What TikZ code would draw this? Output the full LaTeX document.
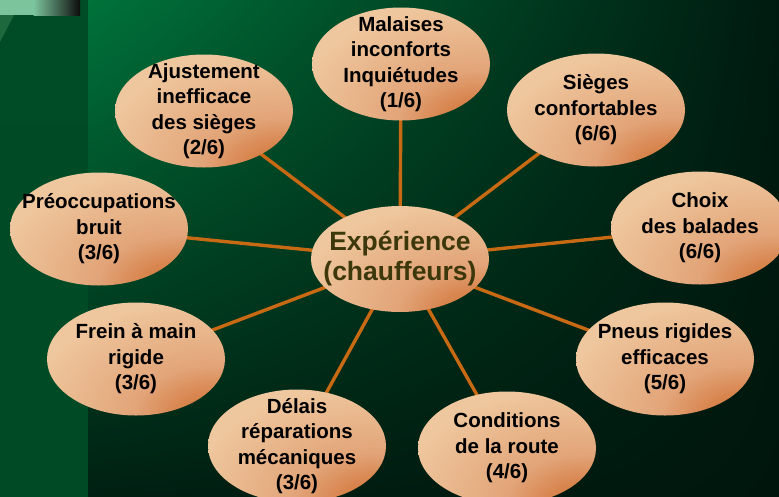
\documentclass[tikz,border=0pt]{standalone}
\usepackage{fontspec}
\setmainfont{Liberation Sans}
\usetikzlibrary{shapes.geometric,shadings}
\definecolor{speach}{RGB}{239,199,158}
\definecolor{smid}{RGB}{226,164,120}
\definecolor{sorange}{RGB}{206,104,40}
\definecolor{connc}{RGB}{200,105,20}
\definecolor{olivetext}{RGB}{60,56,12}
\definecolor{stripTop}{RGB}{0,76,38}
\definecolor{stripMid}{RGB}{0,112,58}
\definecolor{stripBot}{RGB}{0,74,37}
\definecolor{panUL}{RGB}{0,114,58}
\definecolor{panUR}{RGB}{0,26,16}
\definecolor{panLL}{RGB}{0,32,18}
\definecolor{panLR}{RGB}{0,22,13}
\definecolor{barlight}{RGB}{124,196,156}
\definecolor{diagc}{RGB}{30,104,62}
\pgfdeclareradialshading{peachshade}{\pgfpoint{26bp}{-30bp}}{color(0bp)=(sorange); color(4bp)=(sorange); color(22bp)=(smid); color(46bp)=(speach); color(130bp)=(speach)}
\pgfdeclarelayer{back}
\pgfdeclarelayer{lines}
\pgfsetlayers{back,lines,main}
\tikzset{
  sat/.style={ellipse, shade, shading=peachshade, minimum width=178pt, minimum height=113pt,
    inner xsep=-45pt, inner ysep=-40pt, align=center, text=black,
    font=\bfseries\fontsize{20.5}{25.5}\selectfont},
  hub/.style={ellipse, shade, shading=peachshade, minimum width=178pt, minimum height=106pt,
    inner xsep=-45pt, inner ysep=-40pt, align=center, text=olivetext,
    font=\bfseries\fontsize{26.5}{30}\selectfont},
  conn/.style={draw=connc, line width=3.4pt}
}
\begin{document}
\begin{tikzpicture}[x=1pt,y=-1pt]
\useasboundingbox (0,0) rectangle (779,496);
\begin{pgfonlayer}{back}
  \shade[top color=stripTop, middle color=stripMid, bottom color=stripBot] (0,0) rectangle (88,496);
  \shade[upper left=panUL, upper right=panUR, lower left=panLL, lower right=panLR] (88,0) rectangle (779,496);
  \fill[barlight] (0,0) rectangle (34,15);
  \shade[left color=barlight, right color=black!95] (33.5,0) rectangle (80,15);
  \fill[diagc] (0,15) -- (14,15) -- (0,42) -- cycle;
\end{pgfonlayer}

\node[hub] (c) at (400,259) {Expérience\\(chauffeurs)};
\node[sat] (m1) at (401,64) {Malaises\\inconforts\\Inquiétudes\\(1/6)};
\node[sat] (m2) at (596,110) {Sièges\\confortables\\(6/6)};
\node[sat] (m3) at (700,228) {Choix\\des balades\\(6/6)};
\node[sat] (m4) at (665,359) {Pneus rigides\\efficaces\\(5/6)};
\node[sat] (m5) at (507,448) {Conditions\\de la route\\(4/6)};
\node[sat] (m6) at (297,446) {Délais\\réparations\\mécaniques\\(3/6)};
\node[sat] (m7) at (136,359) {Frein à main\\rigide\\(3/6)};
\node[sat] (m8) at (99,229) {Préoccupations\\bruit\\(3/6)};
\node[sat] (m9) at (204,111) {Ajustement\\inefficace\\des sièges\\(2/6)};

\begin{pgfonlayer}{lines}
  \foreach \n in {m1,m2,m3,m4,m5,m6,m7,m8,m9}
    \draw[conn] (c.center) -- (\n.center);
\end{pgfonlayer}
\end{tikzpicture}
\end{document}
